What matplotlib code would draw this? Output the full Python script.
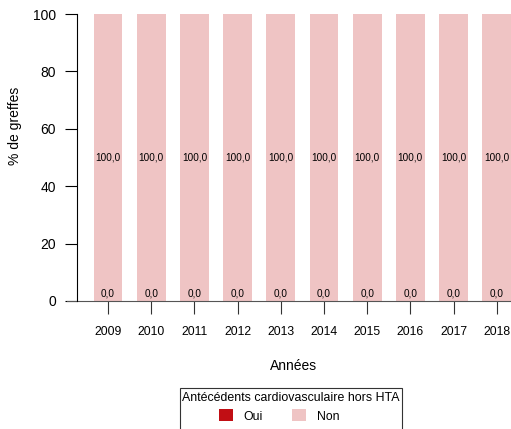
import numpy as np
import matplotlib
matplotlib.use("Agg")
import matplotlib.pyplot as plt
from matplotlib.patches import Patch, Rectangle
from matplotlib.lines import Line2D

plt.rcParams['font.family'] = ['Liberation Sans', 'DejaVu Sans']

annees = ['2009', '2010', '2011', '2012', '2013', '2014', '2015', '2016', '2017', '2018']
oui = [0.0, 0.0, 0.0, 0.0, 0.0, 0.0, 0.0, 0.0, 0.0, 0.0]
non = [100.0, 100.0, 100.0, 100.0, 100.0, 100.0, 100.0, 100.0, 100.0, 100.0]

col_oui = '#c10e14'
col_non = '#efc4c4'

W, H = 511, 429
fig = plt.figure(figsize=(W / 100, H / 100), dpi=100)
# zone du graphe en pixels : gauche 77, droite 511, bas 301, haut 14
ax = fig.add_axes([77 / W, 1 - 301 / H, (511 - 77) / W, (301 - 14) / H])

x = np.arange(len(annees))
largeur = 0.67
ax.bar(x, oui, width=largeur, color=col_oui, linewidth=0)
ax.bar(x, non, width=largeur, bottom=oui, color=col_non, linewidth=0)

for i in range(len(annees)):
    ax.text(x[i], oui[i] + non[i] / 2, f"{non[i]:.1f}".replace('.', ','),
            ha='center', va='center', fontsize=7.2)
    ax.text(x[i], 0.8, f"{oui[i]:.1f}".replace('.', ','),
            ha='center', va='bottom', fontsize=7.2)

ax.set_xlim(-0.718, 9.33)
ax.set_ylim(0, 100)

for s in ['top', 'right', 'bottom']:
    ax.spines[s].set_visible(False)
ax.spines['left'].set_linewidth(0.8)
ax.set_yticks([0, 20, 40, 60, 80, 100])
ax.tick_params(axis='y', length=9, width=0.8, labelsize=10, pad=6)
ax.set_xticks(x)
ax.set_xticklabels(annees)
ax.tick_params(axis='x', length=9, width=0.8, labelsize=8.8, pad=9, colors='#333333', labelcolor='black')

# ligne de base
ax.add_line(Line2D([-0.95, 9.33], [0, 0], color='#555555', linewidth=0.8, clip_on=False))

ax.set_ylabel('% de greffes', fontsize=10)
ax.yaxis.set_label_coords(-0.143, 0.61)
ax.set_xlabel('Années', fontsize=10)
ax.xaxis.set_label_coords(0.5, -(366 - 301) / 287)
ax.xaxis.label.set_va('center')
ax.yaxis.label.set_va('center')

# légende façon R : cadre + titre + entrées
fig.patches.append(Rectangle((180 / W, 1 - 440 / H), 222 / W, 52 / H,
                             transform=fig.transFigure, fill=False,
                             edgecolor='#333333', linewidth=0.8))
fig.text(291 / W, 1 - 398 / H, 'Antécédents cardiovasculaire hors HTA',
         ha='center', va='center', fontsize=8.9)
handles = [Patch(facecolor=col_oui, edgecolor='none', label='Oui'),
           Patch(facecolor=col_non, edgecolor='none', label='Non')]
leg = fig.legend(handles=handles, ncol=2, loc='center left',
                 bbox_to_anchor=(219 / W, 1 - 416 / H),
                 fontsize=8.8, frameon=False, handlelength=1.15, handleheight=1.1,
                 columnspacing=2.4, borderpad=0, borderaxespad=0, handletextpad=0.85)

fig.savefig('out.png', dpi=100)
